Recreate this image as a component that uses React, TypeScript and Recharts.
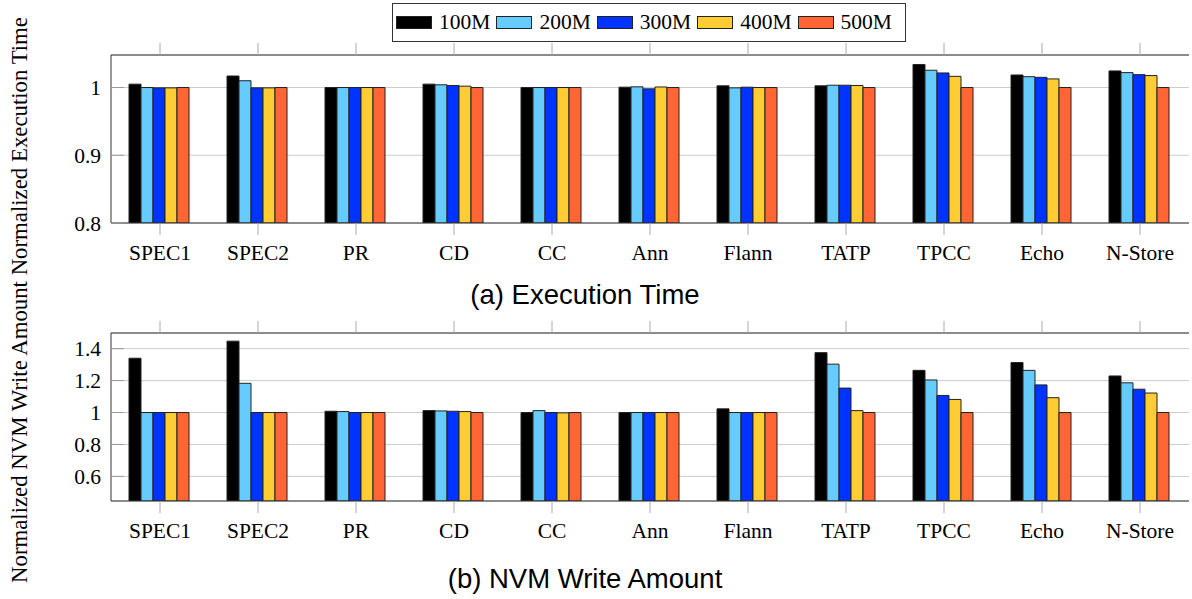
import React from 'react';
import { BarChart, Bar, XAxis, YAxis, CartesianGrid } from 'recharts';

const categories = ['SPEC1', 'SPEC2', 'PR', 'CD', 'CC', 'Ann', 'Flann', 'TATP', 'TPCC', 'Echo', 'N-Store'];
const seriesNames = ['100M', '200M', '300M', '400M', '500M'];
const seriesColors = ['#000000', '#66CCFF', '#0033FF', '#FFCC33', '#FF6633'];

// (a) normalized execution time
const exec100M = [1.005, 1.017, 1.0, 1.005, 1.0, 1.0005, 1.0025, 1.0025, 1.034, 1.0185, 1.0245];
const exec200M = [1.0, 1.01, 1.0, 1.004, 1.0, 1.001, 0.9995, 1.0034, 1.0255, 1.016, 1.022];
const exec300M = [0.9995, 0.9995, 1.0, 1.003, 1.0, 0.998, 1.0005, 1.0034, 1.0215, 1.015, 1.019];
const exec400M = [0.9995, 0.9995, 1.0, 1.002, 1.0, 1.0008, 1.0, 1.003, 1.0165, 1.0127, 1.0176];
const exec500M = [1.0, 1.0, 1.0, 1.0, 1.0, 1.0, 1.0, 1.0, 1.0, 1.0, 1.0];

// (b) normalized NVM write amount
const write100M = [1.34, 1.447, 1.008, 1.012, 1.0, 1.0, 1.023, 1.375, 1.264, 1.313, 1.229];
const write200M = [1.0, 1.183, 1.006, 1.01, 1.012, 1.0, 1.0, 1.303, 1.204, 1.264, 1.186];
const write300M = [1.0, 1.0, 1.0, 1.008, 1.0, 1.0, 1.0, 1.153, 1.107, 1.173, 1.146];
const write400M = [1.0, 1.0, 1.0, 1.006, 0.998, 1.0, 1.0, 1.012, 1.082, 1.093, 1.122];
const write500M = [1.0, 1.0, 1.0, 1.0, 1.0, 1.0, 1.0, 1.0, 1.0, 1.0, 1.0];

const execTicks = [0.8, 0.9, 1];
const writeTicks = [0.6, 0.8, 1, 1.2, 1.4];

const buildRows = (series: number[][]) =>
  categories.map((name, i) => {
    const row: any = { name };
    seriesNames.forEach((s, j) => {
      row[s] = series[j][i];
    });
    return row;
  });

const execData = buildRows([exec100M, exec200M, exec300M, exec400M, exec500M]);
const writeData = buildRows([write100M, write200M, write300M, write400M, write500M]);

const serif = '"Liberation Serif", "DejaVu Serif", serif';
const sans = '"Liberation Sans", Arial, sans-serif';
const FONT = 21.5;

const LeftTick = (props: any) => {
  const { x, y, payload } = props;
  return (
    <g>
      <line x1={x + 10} x2={x + 23} y1={y} y2={y} stroke="#999" />
      <text x={x} y={y} dy="0.35em" textAnchor="end" fontFamily={serif} fontSize={FONT} fill="#000">
        {String(payload.value)}
      </text>
    </g>
  );
};

const RightTick = (props: any) => {
  const { x, y } = props;
  return <line x1={x} x2={x - 13} y1={y} y2={y} stroke="#999" />;
};

const NoLabel = () => <g />;

const Panel = ({ data, domain, ticks }: { data: any[]; domain: number[]; ticks: number[] }) => (
  <BarChart
    width={1192}
    height={270}
    data={data}
    margin={{ top: 43, right: 3, left: 51, bottom: 7 }}
    barCategoryGap={18}
    barGap={0}
  >
    <CartesianGrid horizontal vertical={false} stroke="#cccccc" strokeWidth={1} yAxisId="left" />
    <XAxis
      dataKey="name"
      height={40}
      axisLine={{ stroke: '#333' }}
      tickLine={{ stroke: '#aaa' }}
      tickSize={12}
      tickMargin={10}
      interval={0}
      tick={{ fontFamily: serif, fontSize: FONT, fill: '#000' }}
    />
    <XAxis
      xAxisId="top"
      orientation="top"
      dataKey="name"
      height={12}
      axisLine={{ stroke: '#333' }}
      tickLine={{ stroke: '#aaa' }}
      tickSize={12}
      interval={0}
      tick={NoLabel}
    />
    <YAxis
      yAxisId="left"
      width={60}
      domain={domain}
      ticks={ticks}
      allowDataOverflow
      axisLine={{ stroke: '#333' }}
      tickLine={false}
      tickSize={0}
      tickMargin={10}
      tick={LeftTick}
    />
    <YAxis
      yAxisId="right"
      orientation="right"
      width={0}
      domain={domain}
      ticks={ticks}
      allowDataOverflow
      axisLine={{ stroke: '#333' }}
      tickLine={false}
      tickSize={0}
      tickMargin={0}
      tick={RightTick}
    />
    {seriesNames.map((s, j) => (
      <Bar
        key={s}
        dataKey={s}
        yAxisId="left"
        fill={seriesColors[j]}
        stroke="#222"
        strokeWidth={1}
        isAnimationActive={false}
      />
    ))}
  </BarChart>
);

const Legend = () => (
  <div
    style={{
      position: 'absolute',
      left: 392,
      top: 3,
      width: 514,
      height: 39,
      border: '1px solid #333',
      background: '#fff',
      display: 'flex',
      alignItems: 'center',
      paddingLeft: 3,
      boxSizing: 'border-box',
      fontFamily: serif,
      fontSize: FONT,
    }}
  >
    {seriesNames.map((s, j) => (
      <div key={s} style={{ display: 'flex', alignItems: 'center', marginRight: 6 }}>
        <div
          style={{
            width: 36,
            height: 13,
            background: seriesColors[j],
            border: '1px solid #222',
            boxSizing: 'border-box',
            marginRight: 7,
          }}
        />
        <span>{s}</span>
      </div>
    ))}
  </div>
);

export default function App() {
  return (
    <div style={{ position: 'absolute', left: 0, top: 0, width: 1192, height: 599, background: '#fff' }}>
      <div style={{ position: 'absolute', left: 0, top: 0 }}>
        <Panel data={execData} domain={[0.8, 1.048]} ticks={execTicks} />
      </div>
      <div style={{ position: 'absolute', left: 0, top: 278 }}>
        <Panel data={writeData} domain={[0.446, 1.498]} ticks={writeTicks} />
      </div>
      <Legend />
      <svg width={1192} height={599} style={{ position: 'absolute', left: 0, top: 0, pointerEvents: 'none' }}>
        <text
          transform="translate(27, 300) rotate(-90)"
          textAnchor="middle"
          fontFamily={serif}
          fontSize={22.8}
          fill="#000"
        >
          Normalized NVM Write Amount Normalized Execution Time
        </text>
        <text x={585} y={294} dy="0.35em" textAnchor="middle" fontFamily={sans} fontSize={27.5} fill="#000">
          (a) Execution Time
        </text>
        <text x={585} y={578} dy="0.35em" textAnchor="middle" fontFamily={sans} fontSize={27.5} fill="#000">
          (b) NVM Write Amount
        </text>
      </svg>
    </div>
  );
}
